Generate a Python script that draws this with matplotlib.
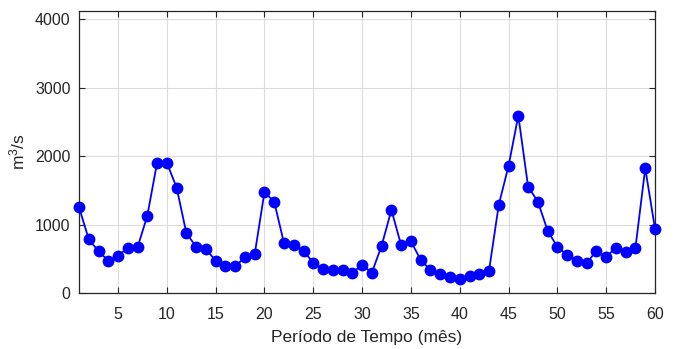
import matplotlib
matplotlib.use("Agg")
import matplotlib.pyplot as plt
import numpy as np

months = np.arange(1, 61)
flow = [1253, 785, 609, 473, 541, 663, 668, 1130, 1905, 1900,
        1540, 872, 677, 639, 473, 400, 390, 522, 570, 1477,
        1330, 726, 697, 614, 443, 355, 336, 330, 297, 409,
        297, 692, 1213, 697, 756, 482, 336, 278, 239, 209,
        249, 278, 326, 1291, 1857, 2592, 1554, 1335, 911, 673,
        556, 473, 434, 619, 526, 663, 600, 663, 1823, 940]
xticks = list(range(5, 61, 5))
yticks = [0, 1000, 2000, 3000, 4000]

plt.rcParams['font.family'] = ['Liberation Sans', 'DejaVu Sans']
plt.rcParams['mathtext.fontset'] = 'custom'
plt.rcParams['mathtext.rm'] = 'Liberation Sans'
plt.rcParams['mathtext.it'] = 'Liberation Sans'
fig = plt.figure(figsize=(6.77, 3.49), dpi=100)
ax = fig.add_axes([0.1167, 0.1605, 0.8508, 0.808])
ax.plot(months, flow, color='#0000ff', lw=1.3, marker='o', ms=7.5,
        markerfacecolor='#0000ff', markeredgecolor='#0000ff', clip_on=False, zorder=3)
ax.set_xlim(1, 60)
ax.set_ylim(0, 4120)
ax.set_xticks(xticks)
ax.set_yticks(yticks)
ax.grid(True, color='#dcdcdc', lw=0.8)
ax.tick_params(direction='in', top=True, right=True, labelsize=11.5,
               colors='#262626', length=4)
ax.tick_params(axis='x', pad=10)
ax.tick_params(axis='y', pad=6)
for s in ax.spines.values():
    s.set_color('#262626')
    s.set_linewidth(0.9)
ax.set_xlabel('Período de Tempo (mês)', fontsize=12.5, color='#262626', labelpad=6)
ax.set_ylabel('m$\\mathregular{^3}$/s', fontsize=12.5, color='#262626')
ax.yaxis.set_label_coords(-0.09, 0.5)
fig.savefig('out.png', dpi=100)
